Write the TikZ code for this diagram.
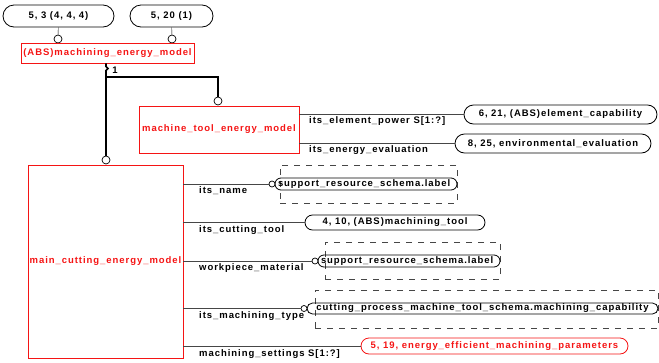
\documentclass[tikz,border=0pt]{standalone}
\usepackage{fontspec}
\setmainfont{Liberation Sans}
\newfontfamily\xg[LetterSpace=10]{Liberation Sans}
\usetikzlibrary{shapes.misc}
\definecolor{xred}{RGB}{245,20,20}
\definecolor{xline}{RGB}{70,70,70}

\begin{document}
\begin{tikzpicture}[x=1pt,y=-1pt,
  every node/.style={font=\xg\bfseries\fontsize{9.5}{11}\selectfont, inner sep=0pt},
  ent/.style={draw=xred, text=xred, line width=.8pt},
  typ/.style={rounded rectangle, draw, line width=.8pt},
  reftyp/.style={typ, draw=xred, text=xred},
  dbox/.style={draw=xline, line width=.8pt, dash pattern=on 6pt off 6pt},
  circ/.style={circle, draw, fill=white, line width=.7pt, minimum size=#1},
  att/.style={anchor=north west},
  rel/.style={draw=xline, line width=.8pt},
  sup/.style={line width=1.6pt}]
\useasboundingbox (0,0) rectangle (659,362);

% page references and the abstract supertype
\node[typ, minimum width=111, minimum height=22] (R1) at (58.5,16) {5, 3 (4, 4, 4)};
\node[typ, minimum width=83, minimum height=22] (R2) at (171.5,16) {5, 20 (1)};
\node[circ=8] (oA) at (58,39) {};
\node[circ=8] (oB) at (172,39) {};
\node[ent, minimum width=173, minimum height=20] (MEM) at (107.5,53) {(ABS)machining\_energy\_model};
\draw (R1) -- (oA);
\draw (R2) -- (oB);

% subtypes
\coordinate (J) at (106,77);
\node[circ=8] (oC) at (218,101) {};
\node[circ=8] (oD) at (106,160) {};
\node[ent, minimum width=160, minimum height=47] (MTEM) at (219,129.5) {machine\_tool\_energy\_model};
\node[ent, minimum width=155, minimum height=193] (MCEM) at (105.5,261.5) {main\_cutting\_energy\_model};
\draw[sup] (MEM.south -| J) -- ++(0,3) -- ++(2,2) -- ++(-2,2) -- (J);
\draw[sup] (J) -| (oC);
\draw[sup] (J) -- (oD);
\node (ONE) at (115,70) {1};

% attributes of machine_tool_energy_model
\node[typ, minimum width=193, minimum height=19] (EC) at (560.5,114.5) {6, 21, (ABS)element\_capability};
\node[typ, minimum width=196, minimum height=19] (EV) at (553,143.5) {8, 25, environmental\_evaluation};
\draw[rel] (MTEM.east |- EC.west) -- (EC.west);
\draw[rel] (MTEM.east |- EV.west) -- (EV.west);
\node[att] (aEC) at (309,116) {its\_element\_power S[1:?]};
\node[att] (aEV) at (309,145) {its\_energy\_evaluation};

% attributes of main_cutting_energy_model
\node[dbox, minimum width=177, minimum height=38] (DB1) at (368.5,184) {};
\node[typ, minimum width=182, minimum height=12] (L1) at (366,184) {\makebox[176pt][l]{support\_resource\_schema.label}};
\node[circ=6] (o1) at (272,184) {};
\draw[rel] (MCEM.east |- o1) -- (o1);
\node[att] (a1) at (199,186) {its\_name};

\node[typ, minimum width=180, minimum height=15] (MT) at (395,222.5) {4, 10, (ABS)machining\_tool};
\draw[rel] (MCEM.east |- MT.west) -- (MT.west);
\node[att] (a2) at (199,225) {its\_cutting\_tool};

\node[dbox, minimum width=175, minimum height=37] (DB2) at (412.5,260.5) {};
\node[typ, minimum width=182, minimum height=12] (L2) at (409,261) {\makebox[176pt][l]{support\_resource\_schema.label}};
\node[circ=6] (o2) at (315,261) {};
\draw[rel] (MCEM.east |- o2) -- (o2);
\node[att] (a3) at (199,263) {workpiece\_material};

\node[dbox, minimum width=343, minimum height=38] (DB3) at (486.5,309) {};
\node[typ, minimum width=351, minimum height=11] (CAP) at (482.5,308.5) {cutting\_process\_machine\_tool\_schema.machining\_capability};
\node[circ=6] (o3) at (304,308.5) {};
\draw[rel] (MCEM.east |- o3) -- (o3);
\node[att] (a4) at (199,311) {its\_machining\_type};

\node[reftyp, minimum width=267, minimum height=16] (EMP) at (494.5,346) {5, 19, energy\_efficient\_machining\_parameters};
\draw[rel] (MCEM.east |- EMP.west) -- (EMP.west);
\node[att] (a5) at (199,349) {machining\_settings S[1:?]};
\end{tikzpicture}
\end{document}
